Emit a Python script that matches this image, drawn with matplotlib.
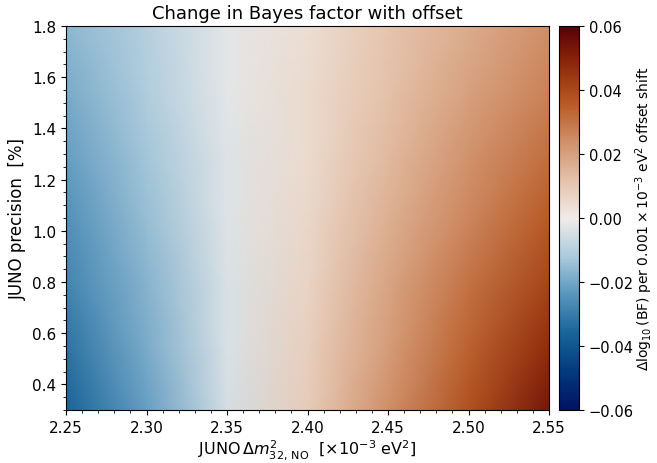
import numpy as np
import matplotlib
matplotlib.use("Agg")
import matplotlib.pyplot as plt
from matplotlib.colors import LinearSegmentedColormap
from matplotlib.ticker import MultipleLocator

## Data (grid nodes)
dm32 = [2.25, 2.30, 2.35, 2.40, 2.45, 2.50, 2.55]
precision = [0.3, 0.55, 0.8, 1.05, 1.3, 1.55, 1.8]

row_030 = [-0.036, -0.022, -0.005, 0.009, 0.024, 0.038, 0.053]
row_055 = [-0.032, -0.019, -0.004, 0.008, 0.021, 0.034, 0.047]
row_080 = [-0.028, -0.017, -0.004, 0.007, 0.019, 0.030, 0.041]
row_105 = [-0.025, -0.015, -0.003, 0.006, 0.016, 0.026, 0.036]
row_130 = [-0.022, -0.013, -0.003, 0.005, 0.014, 0.023, 0.031]
row_155 = [-0.019, -0.011, -0.002, 0.005, 0.012, 0.020, 0.027]
row_180 = [-0.016, -0.010, -0.002, 0.004, 0.011, 0.017, 0.024]

Z = np.array([row_030, row_055, row_080, row_105, row_130, row_155, row_180])

## vik-like diverging colormap
vik = LinearSegmentedColormap.from_list("vik_like", [
    (0.00, "#011261"),
    (0.10, "#033a7e"),
    (0.20, "#186498"),
    (0.30, "#5795bc"),
    (0.40, "#abcadc"),
    (0.50, "#f0ece9"),
    (0.60, "#e4c2aa"),
    (0.70, "#d0906a"),
    (0.80, "#b85a25"),
    (0.90, "#8e2a0a"),
    (1.00, "#590008"),
])

fig = plt.figure(figsize=(6.57, 4.64), dpi=100)
ax = fig.add_axes([66/657, 53/464, 483/657, 384/464])
cax = fig.add_axes([559/657, 53/464, 20/657, 384/464])

X, Y = np.meshgrid(dm32, precision)
mesh = ax.pcolormesh(X, Y, Z, cmap=vik, vmin=-0.06, vmax=0.06, shading="gouraud")

ax.set_xlim(2.25, 2.55)
ax.set_ylim(0.3, 1.8)
ax.xaxis.set_major_locator(MultipleLocator(0.05))
ax.xaxis.set_minor_locator(MultipleLocator(0.01))
ax.yaxis.set_major_locator(MultipleLocator(0.2))
ax.yaxis.set_minor_locator(MultipleLocator(0.05))
ax.tick_params(labelsize=11)

ax.set_title("Change in Bayes factor with offset", fontsize=13)
ax.set_xlabel(r"JUNO$\,\Delta m^2_{32,\,\mathrm{NO}}$  [$\times10^{-3}$ eV$^2$]",
              fontsize=11.5, labelpad=2)
ax.set_ylabel("JUNO precision  [%]", fontsize=12)

cb = fig.colorbar(mesh, cax=cax)
cb.set_ticks([-0.06, -0.04, -0.02, 0.0, 0.02, 0.04, 0.06])
cb.ax.tick_params(labelsize=10.5)
cb.set_label(r"$\Delta\log_{10}(\mathrm{BF})$ per $0.001\times10^{-3}$ eV$^2$ offset shift",
             fontsize=10, labelpad=0)

fig.savefig("out.png", dpi=100)
